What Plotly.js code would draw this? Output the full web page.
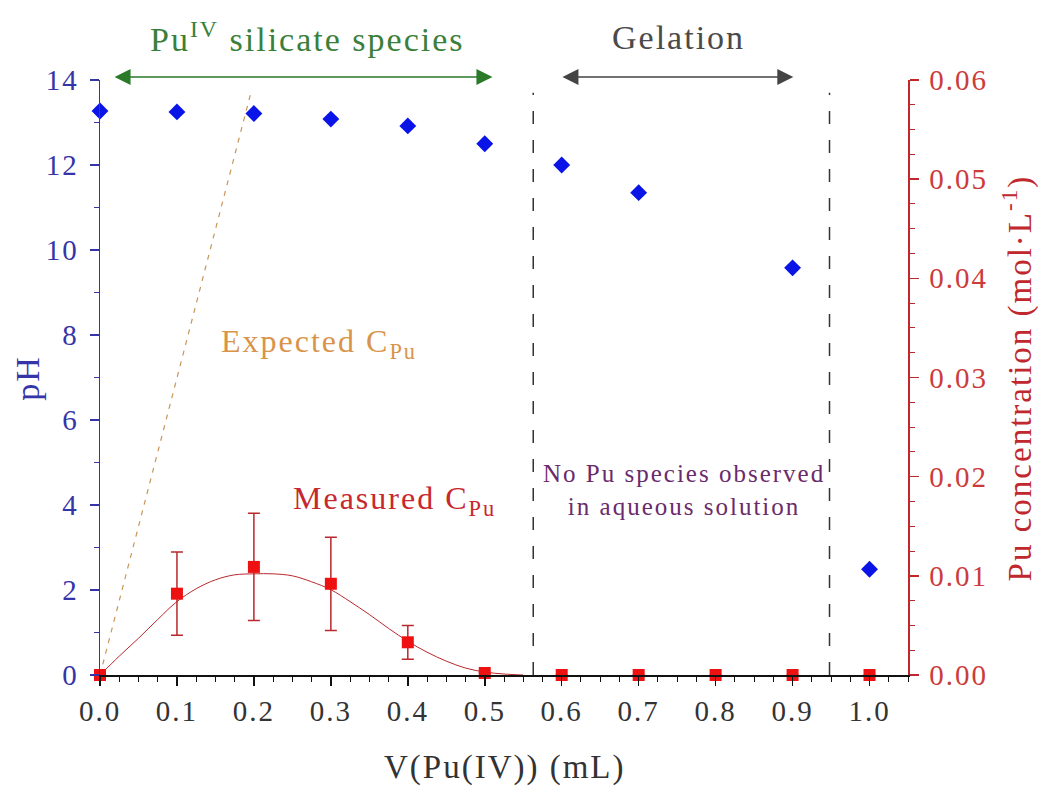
<!DOCTYPE html>
<html>
<head>
<meta charset="utf-8">
<script src="https://cdn.plot.ly/plotly-3.0.1.min.js"></script>
<style>
html,body{margin:0;padding:0;background:#fff;}
#chart{width:1043px;height:787px;}
svg text{letter-spacing:2px;}
</style>
</head>
<body>
<div id="chart"></div>
<script>
// ---- data ----
const volPH = [0.0, 0.1, 0.2, 0.3, 0.4, 0.5, 0.6, 0.7, 0.9, 1.0];
const pHValues = [13.27, 13.25, 13.21, 13.08, 12.92, 12.5, 12.0, 11.35, 9.58, 2.49];

const volPu = [0.0, 0.1, 0.2, 0.3, 0.4, 0.5, 0.6, 0.7, 0.8, 0.9, 1.0];
const measuredPu = [0.0, 0.0082, 0.0109, 0.0092, 0.0033, 0.0002, 0, 0, 0, 0, 0];
const measuredPuErr = [0, 0.0042, 0.0054, 0.0047, 0.0017, 0, 0, 0, 0, 0, 0];

const fitVol = [0, 0.025, 0.05, 0.075, 0.1, 0.125, 0.15, 0.175, 0.2, 0.225, 0.25, 0.275, 0.3, 0.325, 0.35, 0.375, 0.4, 0.425, 0.45, 0.475, 0.5, 0.525, 0.55];
const fitPu = [0, 0.0019, 0.0037, 0.0056, 0.0074, 0.0087, 0.0096, 0.0101, 0.0102, 0.0102, 0.0100, 0.0094, 0.0086, 0.0074, 0.0061, 0.0047, 0.0034, 0.0023, 0.0014, 0.0007, 0.0003, 0.0001, 0.0];

const expectedVol = [0.0, 0.197];
const expectedPu = [0.0, 0.059];

const regionBounds = [0.563, 0.948];
const silicateRange = [0.017, 0.51];
const gelationRange = [0.599, 0.901];

const xTicks = [0.0, 0.1, 0.2, 0.3, 0.4, 0.5, 0.6, 0.7, 0.8, 0.9, 1.0];
const pHTicks = [0, 2, 4, 6, 8, 10, 12, 14];
const puTicks = [0.00, 0.01, 0.02, 0.03, 0.04, 0.05, 0.06];

// ---- styles ----
const FONT = 'Liberation Serif, Times New Roman, serif';
const BLUE = '#3535a8';
const RED = '#c0282d';

const traces = [
  {
    x: expectedVol, y: expectedPu, yaxis: 'y2', mode: 'lines',
    line: {color: '#c8965a', width: 1.2, dash: '5px,6px'},
    hoverinfo: 'skip', cliponaxis: false
  },
  {
    x: fitVol, y: fitPu, yaxis: 'y2', mode: 'lines',
    line: {color: '#b8282d', width: 1, shape: 'spline'},
    hoverinfo: 'skip'
  },
  {
    x: volPu, y: measuredPu, yaxis: 'y2', mode: 'markers',
    marker: {symbol: 'square', size: 12, color: '#ee1111'},
    error_y: {type: 'data', array: measuredPuErr, visible: true, color: '#b8282d', thickness: 1.5, width: 6},
    cliponaxis: false
  },
  {
    x: volPH, y: pHValues, yaxis: 'y', mode: 'markers',
    marker: {symbol: 'diamond', size: 13, color: '#0a14e6'},
    cliponaxis: false
  }
];

const shapes = regionBounds.map(xb => ({
  type: 'line', xref: 'x', yref: 'y', x0: xb, x1: xb, y0: 0, y1: 13.7,
  line: {color: '#333', width: 1.5, dash: '13px,16px'}
}));

function txt(xref, yref, x, y, text, size, color, extra) {
  return Object.assign({xref: xref, yref: yref, x: x, y: y, text: text, showarrow: false,
    xanchor: 'center', yanchor: 'middle', font: {family: FONT, size: size, color: color}}, extra || {});
}

const annotations = [
  {xref: 'x', yref: 'paper', x: silicateRange[1], y: 1.005, axref: 'x', ayref: 'pixel', ax: silicateRange[0], ay: 0,
   text: '', showarrow: true, arrowside: 'end+start', arrowhead: 2, startarrowhead: 2, arrowsize: 2, startarrowsize: 2,
   arrowwidth: 1.6, arrowcolor: '#2a7a2a'},
  {xref: 'x', yref: 'paper', x: gelationRange[1], y: 1.005, axref: 'x', ayref: 'pixel', ax: gelationRange[0], ay: 0,
   text: '', showarrow: true, arrowside: 'end+start', arrowhead: 2, startarrowhead: 2, arrowsize: 2, startarrowsize: 2,
   arrowwidth: 1.6, arrowcolor: '#444'},
  txt('x', 'paper', 0.27, 1.072, 'Pu<sup>IV</sup> silicate species', 34, '#3a803a'),
  txt('x', 'paper', 0.752, 1.072, 'Gelation', 34, '#4a4a4a'),
  txt('x', 'y', 0.285, 7.8, 'Expected C<sub>Pu</sub>', 32, '#d9944a'),
  txt('x', 'y', 0.383, 4.1, 'Measured C<sub>Pu</sub>', 32, '#c8282d'),
  txt('x', 'y', 0.759, 4.35, 'No Pu species observed<br>in aqueous solution', 25, '#6b2a6b'),
  txt('paper', 'paper', 1.136, 0.5, 'Pu concentration (mol·L<sup>-1</sup>)', 33, RED, {textangle: -90}),
  txt('paper', 'paper', -0.09, 0.5, 'pH', 34, BLUE, {textangle: -90}),
  txt('paper', 'paper', 0.501, -0.156, 'V(Pu(IV)) (mL)', 33, '#333')
];

const layout = {
  width: 1043, height: 787,
  margin: {l: 100, r: 135, t: 80, b: 112},
  paper_bgcolor: '#fff', plot_bgcolor: '#fff',
  showlegend: false,
  font: {family: FONT},
  xaxis: {
    range: [0, 1.05], tickvals: xTicks, ticktext: xTicks.map(v => v.toFixed(1)),
    showline: true, linecolor: '#111', linewidth: 1.5, showgrid: false, zeroline: false,
    ticks: 'outside', ticklen: 9, tickwidth: 1.5, tickcolor: '#111',
    minor: {dtick: 0.025, ticks: 'outside', ticklen: 5, tickwidth: 1, tickcolor: '#111'},
    tickfont: {family: FONT, size: 29, color: '#333'},
    ticklabelstandoff: 1
  },
  yaxis: {
    range: [0, 14], tickvals: pHTicks,
    showline: true, linecolor: BLUE, linewidth: 1.5, showgrid: false, zeroline: false,
    ticks: 'outside', ticklen: 9, tickwidth: 1.5, tickcolor: BLUE,
    minor: {dtick: 1, ticks: 'outside', ticklen: 5, tickwidth: 1, tickcolor: BLUE},
    tickfont: {family: FONT, size: 29, color: BLUE},
    ticklabelstandoff: 5
  },
  yaxis2: {
    range: [0, 0.06], tickvals: puTicks, ticktext: puTicks.map(v => v.toFixed(2)),
    overlaying: 'y', side: 'right', anchor: 'x',
    showline: true, linecolor: RED, linewidth: 1.5, showgrid: false, zeroline: false,
    ticks: 'outside', ticklen: 9, tickwidth: 1.5, tickcolor: RED,
    minor: {dtick: 0.0025, ticks: 'outside', ticklen: 5, tickwidth: 1, tickcolor: RED},
    tickfont: {family: FONT, size: 29, color: '#cc3b3b'},
    ticklabelstandoff: 5
  },
  shapes: shapes,
  annotations: annotations
};

Plotly.newPlot('chart', traces, layout, {staticPlot: true, displayModeBar: false});
</script>
</body>
</html>
